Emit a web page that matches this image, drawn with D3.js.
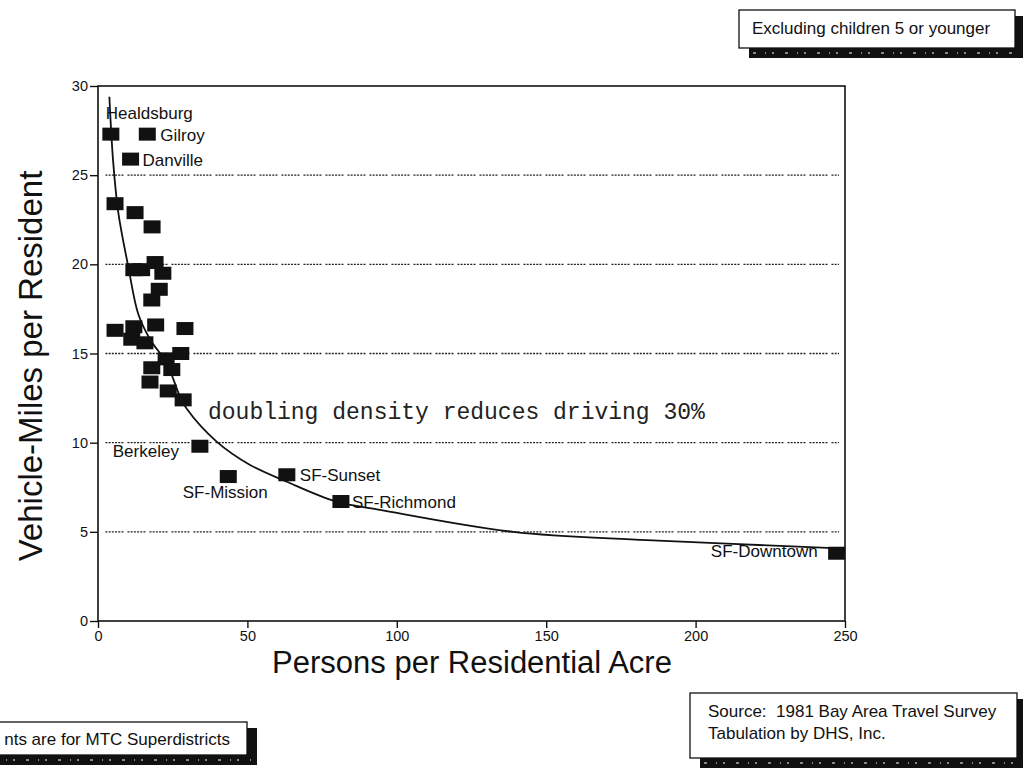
<!DOCTYPE html>
<html>
<head>
<meta charset="utf-8">
<script src="https://cdn.jsdelivr.net/npm/d3@7"></script>
<style>
	body { margin: 0; background: #fff; }
	svg { display: block; font-family: "Liberation Sans", Arial, sans-serif; }
	.tick text { font-size: 14.5px; fill: #111; }
	.label { font-size: 17px; fill: #111; }
	.note { font-size: 17px; fill: #111; }
</style>
</head>
<body>
<svg id="chart" width="1023" height="772"></svg>
<script>
"use strict";

// Bay Area superdistricts: density vs driving (1981 travel survey)
const names = ["Healdsburg", "Gilroy", "Danville", "", "", "", "", "", "", "", "", "", "", "", "",
	"", "", "", "", "", "", "", "", "", "", "Berkeley", "SF-Mission", "SF-Sunset", "SF-Richmond", "SF-Downtown"];
const density = [4.3, 16.5, 10.9, 5.7, 12.4, 18.1, 12.0, 14.6, 19.1, 21.7, 20.5, 18.0, 5.7, 12.0, 19.3, 29.1,
	11.3, 15.7, 22.8, 27.7, 18.0, 24.7, 17.4, 23.5, 28.5, 34.1, 43.6, 63.2, 81.3, 247.2];
const vmt = [27.3, 27.3, 25.9, 23.4, 22.9, 22.1, 19.7, 19.7, 20.1, 19.5, 18.6, 18.0, 16.3, 16.5, 16.6, 16.4,
	15.8, 15.6, 14.7, 15.0, 14.2, 14.1, 13.4, 12.9, 12.4, 9.8, 8.1, 8.2, 6.7, 3.8];

// hand-drawn trend line
const trendX = [3.8, 5.1, 6.8, 10.1, 13.5, 17.4, 23.0, 27.4, 29.7, 39.7, 50.9, 63.2, 79.9, 94.4, 138.9, 183.7, 246];
const trendY = [29.4, 25.7, 22.9, 19.9, 17.2, 15.8, 14.45, 12.6, 11.9, 10.06, 8.75, 7.81, 6.69, 6.23, 5.0, 4.54, 4.09];

const xTicks = [0, 50, 100, 150, 200, 250];
const yTicks = [0, 5, 10, 15, 20, 25, 30];
const gridValues = [5, 10, 15, 20, 25];

const xTitle = "Persons per Residential Acre";
const yTitle = "Vehicle-Miles per Resident";
const annotation = "doubling density reduces driving 30%";
const topNote = "Excluding children 5 or younger";
// the box runs off the left edge of the page, only this part shows
const leftNote = "nts are for MTC Superdistricts";
const sourceLines = ["Source:  1981 Bay Area Travel Survey", "Tabulation by DHS, Inc."];

// label placement relative to its square: [dx, dy, anchor]
const labelPos = {
	"Healdsburg": [-5, -15, "start"],
	"Gilroy": [13, 7, "start"],
	"Danville": [12, 7, "start"],
	"Berkeley": [-21, 11, "end"],
	"SF-Mission": [-3, 21, "middle"],
	"SF-Sunset": [13, 6, "start"],
	"SF-Richmond": [11, 6, "start"],
	"SF-Downtown": [-19, 4, "end"]
};

const svg = d3.select("#chart");

const x = d3.scaleLinear().domain([0, 250]).range([98, 845]);
const y = d3.scaleLinear().domain([0, 30]).range([621, 86]);

// gridlines
svg.append("g")
	.selectAll("line")
	.data(gridValues)
	.join("line")
	.attr("x1", x(2.5))
	.attr("x2", x(248))
	.attr("y1", d => y(d))
	.attr("y2", d => y(d))
	.attr("stroke", "#222")
	.attr("stroke-width", 1.4)
	.attr("stroke-dasharray", "2,1.2,2,1.2,2,1.2,2,1.2,2,1.2,2,4");

// frame
svg.append("rect")
	.attr("x", x(0))
	.attr("y", y(30))
	.attr("width", x(250) - x(0))
	.attr("height", y(0) - y(30))
	.attr("fill", "none")
	.attr("stroke", "#111")
	.attr("stroke-width", 1.6);

const xaxis = d3.axisBottom(x).tickValues(xTicks).tickSize(7).tickPadding(3);
const yaxis = d3.axisLeft(y).tickValues(yTicks).tickSize(8).tickPadding(2);

svg.append("g")
	.attr("transform", `translate(0, ${y(0)})`)
	.call(xaxis)
	.call(g => g.select(".domain").remove())
	.call(g => g.selectAll("line").attr("stroke", "#111").attr("stroke-width", 1.4));
svg.append("g")
	.attr("transform", `translate(${x(0)}, 0)`)
	.call(yaxis)
	.call(g => g.select(".domain").remove())
	.call(g => g.selectAll("line").attr("stroke", "#111").attr("stroke-width", 1.4));

// axis titles
svg.append("text")
	.attr("x", 472)
	.attr("y", 673)
	.attr("text-anchor", "middle")
	.style("font-size", "31px")
	.attr("fill", "#111")
	.text(xTitle);
svg.append("text")
	.attr("transform", "translate(42, 366) rotate(-90)")
	.attr("text-anchor", "middle")
	.style("font-size", "33px")
	.attr("fill", "#111")
	.text(yTitle);

// trend line
const trend = d3.line()
	.x((d, i) => x(trendX[i]))
	.y((d, i) => y(trendY[i]))
	.curve(d3.curveCatmullRom);
svg.append("path")
	.datum(trendX)
	.attr("d", trend)
	.attr("fill", "none")
	.attr("stroke", "#111")
	.attr("stroke-width", 1.8);

// squares
const sq_w = 17, sq_h = 13;
svg.append("g")
	.selectAll("rect")
	.data(density)
	.join("rect")
	.attr("x", d => x(d) - sq_w / 2)
	.attr("y", (d, i) => y(vmt[i]) - sq_h / 2)
	.attr("width", sq_w)
	.attr("height", sq_h)
	.attr("fill", "#111");

// point labels
svg.append("g")
	.selectAll("text")
	.data(names.map((n, i) => i).filter(i => names[i] !== ""))
	.join("text")
	.classed("label", true)
	.attr("x", i => x(density[i]) + labelPos[names[i]][0])
	.attr("y", i => y(vmt[i]) + labelPos[names[i]][1])
	.attr("text-anchor", i => labelPos[names[i]][2])
	.text(i => names[i]);

// annotation in typewriter face
svg.append("text")
	.attr("x", 208)
	.attr("y", 419)
	.style("font-family", "'Liberation Mono', 'DejaVu Sans Mono', monospace")
	.style("font-size", "23px")
	.attr("fill", "#222")
	.text(annotation);

// boxed notes with a rough drop shadow
function noteBox(bx, by, bw, bh, sh) {
	let g = svg.append("g");
	g.append("rect")
		.attr("x", bx + 10).attr("y", by + 6)
		.attr("width", bw).attr("height", bh + sh - 6)
		.attr("fill", "#111");
	g.append("line")
		.attr("x1", bx + 14).attr("x2", bx + bw + 4)
		.attr("y1", by + bh + sh / 2).attr("y2", by + bh + sh / 2)
		.attr("stroke", "#fff")
		.attr("stroke-width", 1)
		.attr("stroke-dasharray", "3,9,1,6,2,11");
	g.append("rect")
		.attr("x", bx).attr("y", by)
		.attr("width", bw).attr("height", bh)
		.attr("fill", "#fff")
		.attr("stroke", "#111")
		.attr("stroke-width", 1.3);
	return g;
}

noteBox(739, 10, 276, 38, 10)
	.append("text").classed("note", true)
	.attr("x", 752).attr("y", 34)
	.text(topNote);

noteBox(-20, 722, 267, 33, 10)
	.append("text").classed("note", true)
	.attr("x", 230).attr("y", 745)
	.attr("text-anchor", "end")
	.text(leftNote);

let src = noteBox(690, 693, 327, 65, 10);
src.selectAll("text.note")
	.data(sourceLines)
	.join("text")
	.classed("note", true)
	.attr("x", 708)
	.attr("y", (d, i) => 717 + i * 22)
	.style("white-space", "pre")
	.text(d => d);
</script>
</body>
</html>
